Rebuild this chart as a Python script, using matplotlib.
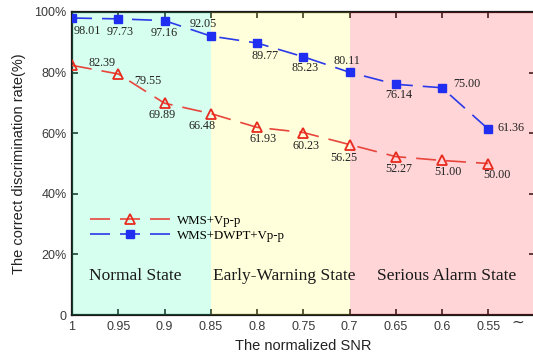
import matplotlib
matplotlib.use('Agg')
import matplotlib.pyplot as plt
from matplotlib.patches import Rectangle

# 데이터
snr = [1, 0.95, 0.9, 0.85, 0.8, 0.75, 0.7, 0.65, 0.6, 0.55]
wms_vpp = [82.39, 79.55, 69.89, 66.48, 61.93, 60.23, 56.25, 52.27, 51.00, 50.00]
wms_dwpt_vpp = [98.01, 97.73, 97.16, 92.05, 89.77, 85.23, 80.11, 76.14, 75.00, 61.36]
xtick_labels = ['1', '0.95', '0.9', '0.85', '0.8', '0.75', '0.7', '0.65', '0.6', '0.55']
ytick_labels = ['0', '20%', '40%', '60%', '80%', '100%']

# 라벨 위치 오프셋 (pixel)
red_off = [(30, 2), (30, -7), (-2, -12), (-9, -12), (6, -12), (3, -13), (-6, -13), (3, -12), (6, -12), (9, -11)]
blue_off = [(15, -13), (2, -13), (0, -12), (-8, 12), (8, -13), (2, -11), (-3, 11), (3, -11), (25, 4), (23, 1)]

# 상태 구간
states = ['Normal State', 'Early-Warning State', 'Serious Alarm State']
bounds = [(1.0, 0.85), (0.85, 0.7), (0.7, 0.5)]
span_colors = [((0.0, 1.0, 0.62), 0.16), ((1.0, 1.0, 0.0), 0.14), ((1.0, 0.0, 0.05), 0.165)]

W, H = 533, 360
fig = plt.figure(figsize=(W / 100, H / 100), dpi=100)
ax = fig.add_axes([72 / W, 45 / H, (534.5 - 72) / W, 303 / H])

ax.set_xlim(1.0, 0.5)
ax.set_ylim(0, 100)

for (x0, x1), (c, a) in zip(bounds, span_colors):
    ax.add_patch(Rectangle((x1, 0), x0 - x1, 100, facecolor=c, alpha=a,
                           edgecolor='none', zorder=2.6))

ax.plot(snr, wms_vpp, color='#e8453c', lw=1.2, dashes=(12, 6), marker='^',
        ms=7.5, mfc='none', mec='#e82a1e', mew=1.3, zorder=3, label='WMS+Vp-p')
ax.plot(snr, wms_dwpt_vpp, color='#2a3ae8', lw=1.2, dashes=(12, 6), marker='s',
        ms=5.5, mfc='#1f2ef0', mec='#1f2ef0', zorder=3, label='WMS+DWPT+Vp-p')

serif = 'Liberation Serif'
for x, y, (dx, dy) in zip(snr, wms_vpp, red_off):
    ax.annotate('%.2f' % y, (x, y), xytext=(dx, dy), textcoords='offset pixels',
                ha='center', va='center', fontsize=8.7, family=serif, color='#222222', zorder=4)
for x, y, (dx, dy) in zip(snr, wms_dwpt_vpp, blue_off):
    ax.annotate('%.2f' % y, (x, y), xytext=(dx, dy), textcoords='offset pixels',
                ha='center', va='center', fontsize=8.7, family=serif, color='#222222', zorder=4)

state_x = [135, 284, 447]
for name, px in zip(states, state_x):
    fig.text(px / W, 1 - 276 / H, name, ha='center', va='center',
             fontsize=12.5, family=serif, color='#1a1a1a')

ax.set_xticks(snr)
ax.set_xticklabels(xtick_labels)
ax.set_yticks([0, 20, 40, 60, 80, 100])
ax.set_yticklabels(ytick_labels)
for lab in ax.get_xticklabels() + ax.get_yticklabels():
    lab.set_family('Liberation Sans')
    lab.set_fontsize(9)
    lab.set_color('#3a3a3a')
ax.tick_params(direction='in', length=4, width=1.2, top=True, right=True,
               colors='#222222', labelcolor='#3a3a3a', pad=4)
for s in ax.spines.values():
    s.set_linewidth(1.6)
    s.set_color('#1a1a1a')

ax.set_xlabel('The normalized SNR', family='Liberation Sans', fontsize=10.5,
              color='#222222', labelpad=5)
ax.set_ylabel('The correct discrimination rate(%)', family='Liberation Sans',
              fontsize=10.5, color='#222222', labelpad=6)

leg = ax.legend(loc='upper left', bbox_to_anchor=(6 / 462.5, 1 - 191 / 303),
                frameon=False, handlelength=6.2, handletextpad=0.6,
                labelspacing=0.25, prop={'family': serif, 'size': 9.3})
leg.set_zorder(5)

fig.text(518 / W, 1 - 322 / H, '∼', ha='center', va='center', fontsize=11,
         family='DejaVu Sans', color='#333333')

fig.savefig('out.png', dpi=100)
